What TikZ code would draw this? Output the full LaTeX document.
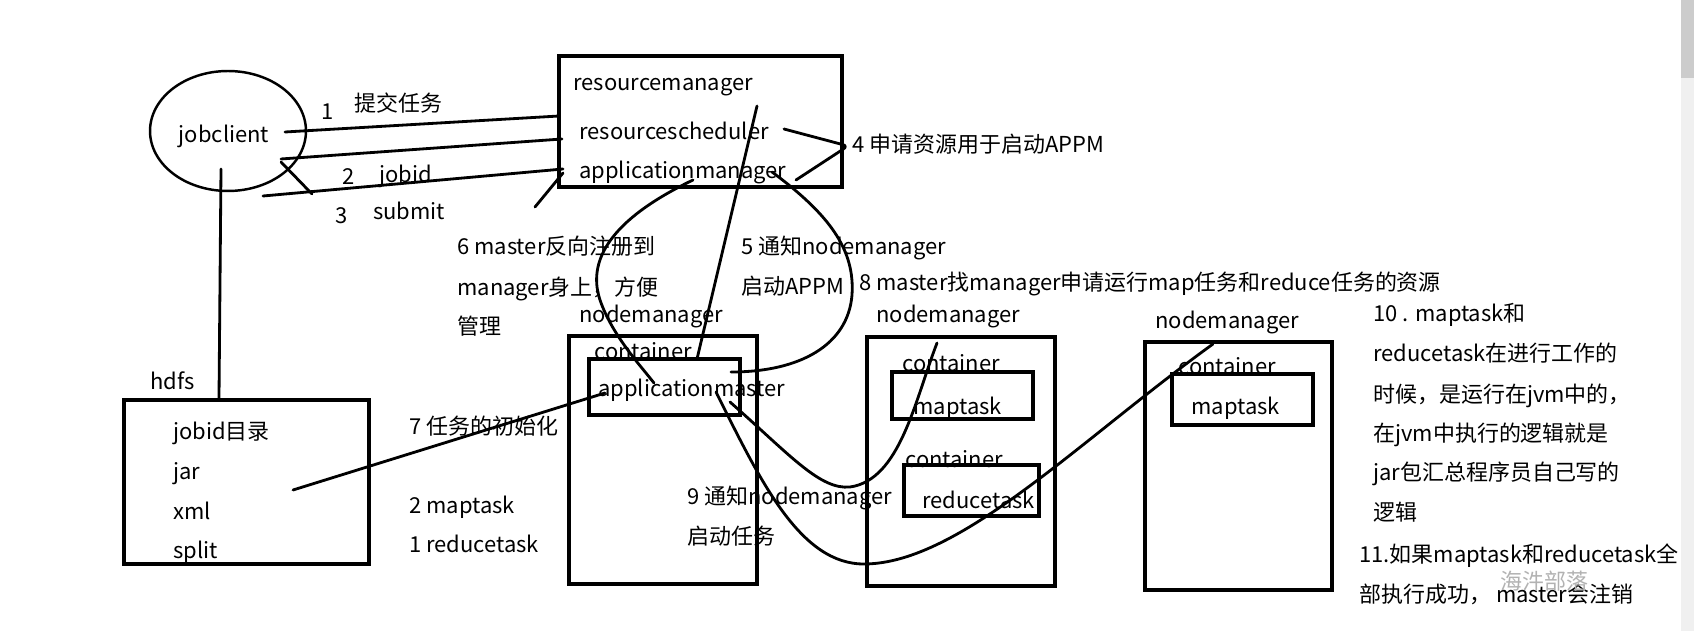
\documentclass[tikz,border=0pt]{standalone}
\usepackage{fontspec}
\setmainfont{Noto Sans CJK SC}
\usetikzlibrary{fit,shapes.geometric}

\begin{document}
\begin{tikzpicture}[x=0.02cm, y=-0.02cm, font=\fontsize{12.5}{15}\selectfont,
    box/.style={draw, line width=1.8pt, inner sep=0pt},
    lbl/.style={anchor=west, inner sep=0pt, text height=10pt, text depth=2pt},
    wire/.style={line width=1.6pt, line cap=round, line join=round}]
    % Sfondo e barra di scorrimento
    \useasboundingbox (0,0) rectangle (1694,631);
    \fill[white] (0,0) rectangle (1694,631);
    \fill[black!6] (1681,0) rectangle (1694,631);
    \fill[black!20] (1681,0) rectangle (1694,78);

    % Client
    \node[draw, ellipse, line width=1.4pt, minimum width=3.12cm, minimum height=2.4cm, inner sep=0pt] (jobclient) at (228,131) {};
    \node[inner sep=0pt] (jctext) at (224,136) {jobclient};

    % ResourceManager
    \node[box, fit={(559,56) (842,187)}] (rm) {};
    \node[lbl] (rmname) at (573,83) {resourcemanager};
    \node[lbl] (rsched) at (579,132) {resourcescheduler};
    \node[lbl] (amgr) at (579,171) {applicationmanager};

    % HDFS
    \node[lbl] (hdfsname) at (150,382) {hdfs};
    \node[box, fit={(124,400) (369,564)}] (hdfs) {};
    \node[lbl] (hjobid) at (173,432) {jobid目录};
    \node[lbl] (hjar) at (173,472) {jar};
    \node[lbl] (hxml) at (173,512) {xml};
    \node[lbl] (hsplit) at (173,551) {split};

    % NodeManager 1 (applicationmaster)
    \node[lbl] (nm1name) at (579,315) {nodemanager};
    \node[box, fit={(569,336) (757,584)}] (nm1) {};
    \node[lbl] (cont1) at (594,352) {container};
    \node[box, fit={(589,359) (740,415)}] (am) {};
    \node[lbl] (amname) at (598,389) {applicationmaster};

    % NodeManager 2 (maptask + reducetask)
    \node[lbl] (nm2name) at (876,315) {nodemanager};
    \node[box, fit={(867,337) (1055,586)}] (nm2) {};
    \node[lbl] (cont2) at (902,364) {container};
    \node[box, fit={(892,372) (1033,419)}] (map2) {};
    \node[lbl] (map2name) at (913,407) {maptask};
    \node[lbl] (cont3) at (905,460) {container};
    \node[box, fit={(904,465) (1039,516)}] (red2) {};
    \node[lbl] (red2name) at (922,501) {reducetask};

    % NodeManager 3 (maptask)
    \node[lbl] (nm3name) at (1155,321) {nodemanager};
    \node[box, fit={(1145,342) (1332,590)}] (nm3) {};
    \node[lbl] (cont4) at (1178,367) {container};
    \node[box, fit={(1172,374) (1313,425)}] (map3) {};
    \node[lbl] (map3name) at (1191,407) {maptask};

    % Passi 1-3
    \node[inner sep=0pt] (n1) at (328,112) {1};
    \node[lbl] (t1) at (354,104) {提交任务};
    \node[inner sep=0pt] (n2) at (349,177) {2};
    \node[lbl] (t2) at (379,175) {jobid};
    \node[inner sep=0pt] (n3) at (342,216) {3};
    \node[lbl] (t3) at (373,212) {submit};

    % Passi 4-9
    \node[lbl] (t4) at (852,145) {4 申请资源用于启动APPM};
    \node[lbl] (t6a) at (457,247) {6 master反向注册到};
    \node[lbl] (t6b) at (457,288) {manager身上，方便};
    \node[lbl] (t6c) at (457,327) {管理};
    \node[lbl] (t5a) at (741,247) {5 通知nodemanager};
    \node[lbl] (t5b) at (741,287) {启动APPM};
    \node[lbl] (t8) at (859,283) {8 master找manager申请运行map任务和reduce任务的资源};
    \node[lbl] (t7) at (409,427) {7 任务的初始化};
    \node[lbl] (t7a) at (409,506) {2 maptask};
    \node[lbl] (t7b) at (409,545) {1 reducetask};
    \node[lbl] (t9a) at (687,497) {9 通知nodemanager};
    \node[lbl] (t9b) at (687,537) {启动任务};

    % Passi 10-11
    \node[lbl] (t10a) at (1373,314) {10 . maptask和};
    \node[lbl] (t10b) at (1373,354) {reducetask在进行工作的};
    \node[lbl] (t10c) at (1373,395) {时候，是运行在jvm中的，};
    \node[lbl] (t10d) at (1373,434) {在jvm中执行的逻辑就是};
    \node[lbl] (t10e) at (1373,473) {jar包汇总程序员自己写的};
    \node[lbl] (t10f) at (1373,513) {逻辑};
    \node[lbl] (t11a) at (1359,555) {11.如果maptask和reducetask全};
    \node[lbl] (t11b) at (1359,595) {部执行成功，\ master会注销};
    \node[lbl, text=black!30] (wmark) at (1500,582) {海汼部落};

    % Estremi dei collegamenti
    \coordinate (jc1) at (285,132);
    \coordinate (jc2) at (281,159);
    \coordinate (jc3) at (263,196);
    \coordinate (jc4) at (281,162);
    \coordinate (jc5) at (312,194);
    \coordinate (jcb) at (221,169);
    \coordinate (rm1) at (559,116);
    \coordinate (rm2) at (562,139);
    \coordinate (rm3) at (563,169);
    \coordinate (rm4) at (535,207);
    \coordinate (rm5) at (563,173);
    \coordinate (hdfstop) at (219,398);
    \coordinate (sch) at (784,129);
    \coordinate (kink) at (848,146);
    \coordinate (apm) at (796,180);
    \coordinate (rmc) at (757,106);
    \coordinate (amtop) at (697,359);
    \coordinate (apl) at (693,180);
    \coordinate (amin) at (654,383);
    \coordinate (apr) at (772,172);
    \coordinate (amr) at (731,372);
    \coordinate (hdin) at (293,490);
    \coordinate (amw) at (605,393);
    \coordinate (amo1) at (730,402);
    \coordinate (mapin) at (937,343);
    \coordinate (amo2) at (716,392);
    \coordinate (nm3in) at (1213,344);

    % Collegamenti client
    \draw[wire] (jc1) -- (rm1);
    \draw[wire] (jc2) -- (rm2);
    \draw[wire] (jc3) -- (rm3);
    \draw[wire] (jc4) -- (jc5);
    \draw[wire] (rm4) -- (rm5);
    \draw[wire] (jcb) -- (hdfstop);

    % Passo 4
    \draw[wire, rounded corners=3pt] (sch) -- (kink) -- (apm);

    % Passi 5, 6 e 8
    \draw[wire] (rmc) -- (amtop);
    \draw[wire] (apl) .. controls (620,215) and (585,255) .. (600,300)
        .. controls (612,335) and (640,365) .. (amin);
    \draw[wire] (apr) .. controls (830,215) and (855,250) .. (852,295)
        .. controls (848,345) and (800,372) .. (amr);

    % Passo 7
    \draw[wire] (hdin) -- (amw);

    % Passo 9
    \draw[wire] (amo1) .. controls (790,455) and (820,490) .. (850,487)
        .. controls (900,480) and (915,400) .. (mapin);
    \draw[wire] (amo2) .. controls (760,480) and (800,565) .. (865,564)
        .. controls (960,563) and (1080,440) .. (nm3in);
\end{tikzpicture}
\end{document}
